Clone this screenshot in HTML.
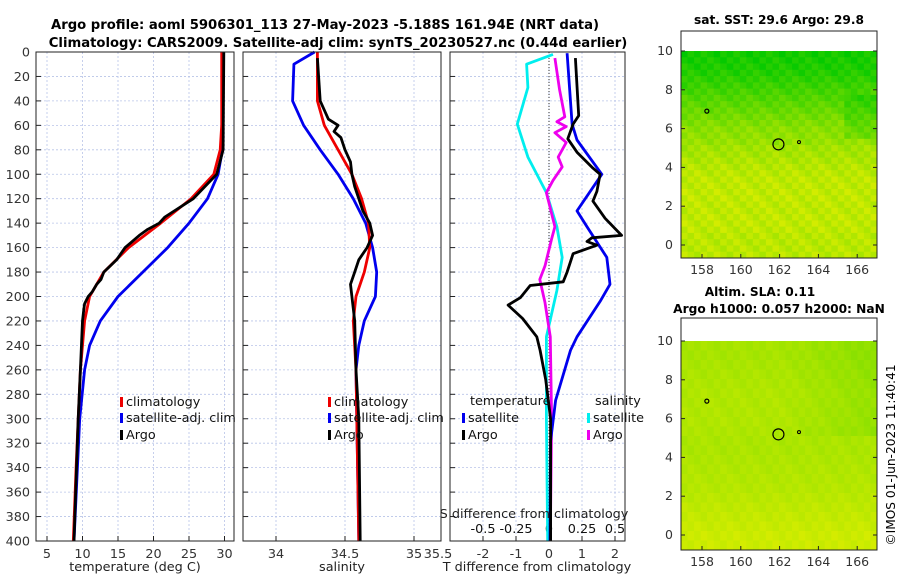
<!DOCTYPE html>
<html><head><meta charset="utf-8"><style>
body{margin:0;background:#fff;}
svg{display:block;font-family:"DejaVu Sans","Liberation Sans",sans-serif;}
</style></head><body>
<svg id="c" width="900" height="580" xmlns="http://www.w3.org/2000/svg">
<text x="325" y="29" text-anchor="middle" font-size="13.2" font-weight="bold">Argo profile: aoml 5906301_113 27-May-2023 -5.188S 161.94E (NRT data)</text>
<text x="338" y="47" text-anchor="middle" font-size="13.2" font-weight="bold">Climatology: CARS2009. Satellite-adj clim: synTS_20230527.nc (0.44d earlier)</text>
<text x="779" y="24" text-anchor="middle" font-size="12.2" font-weight="bold">sat. SST: 29.6 Argo: 29.8</text>
<text x="760" y="296" text-anchor="middle" font-size="12.2" font-weight="bold">Altim. SLA: 0.11</text>
<text x="779" y="313" text-anchor="middle" font-size="12.2" font-weight="bold">Argo h1000: 0.057 h2000: NaN</text>
<text transform="translate(895,455) rotate(-90)" text-anchor="middle" font-size="12.2">©IMOS 01-Jun-2023 11:40:41</text>
<g id="g"></g>
</svg>
<script>
// ---- data ----
const depthTicks=[0,20,40,60,80,100,120,140,160,180,200,220,240,260,280,300,320,340,360,380,400];
const tempTicks=[5,10,15,20,25,30];
const salTicks=[34,34.5,35];
const salTickLabels=["34","34.5","35"];
const diffTTicks=[-2,-1,0,1,2];
const diffSTicks=[-0.5,-0.25,0,0.25,0.5];
const diffSTickLabels=["-0.5","-0.25","0","0.25","0.5"];

const tClimD=[0,60,80,100,120,140,160,180,200,220,240,260,300,340,400];
const tClimV=[29.6,29.6,29.4,28.5,25.3,21,16.5,13,11,10.3,10,9.7,9.4,9.1,8.7];
const tSatD=[0,80,100,120,140,160,180,200,220,240,260,300,400];
const tSatV=[29.8,29.7,29.1,27.6,25,22,18.5,15,12.5,11,10.3,9.6,8.8];
const tArgoD=[0,80,100,120,135,140,145,150,160,170,180,186,190,196,200,206,210,220,260,300,400];
const tArgoV=[29.9,29.8,28.9,25.6,21.6,20.8,19.2,18,16,14.8,13,12.6,12,11.4,10.8,10.3,10.2,10,9.7,9.4,8.8];

const sClimD=[0,40,60,80,100,120,140,160,180,200,220,260,400];
const sClimV=[34.3,34.3,34.35,34.45,34.55,34.62,34.67,34.68,34.64,34.58,34.56,34.58,34.6];
const sSatD=[0,10,40,60,80,100,120,140,160,180,200,220,240,260,400];
const sSatV=[34.28,34.13,34.12,34.2,34.32,34.45,34.56,34.65,34.7,34.73,34.72,34.64,34.6,34.58,34.6];
const sArgoD=[5,40,55,60,65,70,80,90,100,110,120,130,140,150,160,170,180,190,200,210,220,260,300,400];
const sArgoV=[34.3,34.32,34.38,34.45,34.42,34.47,34.5,34.54,34.55,34.57,34.6,34.63,34.68,34.7,34.66,34.6,34.57,34.54,34.55,34.56,34.57,34.58,34.6,34.61];

const dTSatD=[1,59,72,100,130,143,168,190,204,233,244,285,318,400];
const dTSatV=[0.55,0.7,0.85,1.6,0.85,1.15,1.75,1.85,1.55,0.85,0.65,0.2,0.05,0.03];
const dTArgoD=[5,52,59,71,82,95,100,114,122,136,150,152,155,158,165,180,188,191,201,207,218,233,244,268,300,400];
const dTArgoV=[0.8,0.9,0.73,0.57,0.85,1.33,1.55,1.45,1.33,1.7,2.2,1.3,1.15,1.45,0.73,0.55,0.43,-0.57,-0.87,-1.24,-0.8,-0.37,-0.27,-0.1,0.05,0.05];
const dSSatD=[2,10,29,59,86,115,143,168,195,233,300,400];
const dSSatV=[0.03,-0.17,-0.16,-0.24,-0.16,-0.02,0.06,0.1,0.06,-0.02,-0.02,-0.01];
const dSArgoD=[5,31,53,57,61,66,74,86,94,105,115,143,153,175,186,205,233,300,400];
const dSArgoV=[0.045,0.08,0.12,0.06,0.13,0.045,0.13,0.07,0.1,0.03,-0.02,0.045,0.02,-0.03,-0.07,-0.03,0.01,0.02,0.01];

const sstRows=[0.08,0.1,0.12,0.15,0.2,0.25,0.3,0.35,0.4,0.45,0.5,0.55,0.6,0.62,0.65,0.7,0.72,0.75,0.78,0.8,0.82,0.82,0.83,0.83,0.82,0.82,0.83,0.83,0.82,0.8,0.8,0.8,0.8];
const slaRows=[0.72,0.72,0.73,0.74,0.75,0.76,0.76,0.76,0.76,0.75,0.74,0.74,0.75,0.76,0.77,0.78,0.8,0.82,0.84,0.86,0.88,0.88];
const mapLonTicks=[158,160,162,164,166];
const mapLatTicks=[0,2,4,6,8,10];

// ---- helpers ----
const NS="http://www.w3.org/2000/svg";
const G=document.getElementById('g');
function mk(tag,attrs,parent){const e=document.createElementNS(NS,tag);for(const k in attrs)e.setAttribute(k,attrs[k]);(parent||G).appendChild(e);return e;}
const Y0=52,Y1=541;
const yD=d=>Y0+(Y1-Y0)*d/400;
const xT=t=>47+(t-5)*7.1;
const xS=s=>276+(s-34)*138;
const xDT=t=>549+t*33;
const xDS=s=>549+s*132;
const panels=[[36,234],[243,441],[450,625]];
const FS=12.8;

panels.forEach((p,pi)=>{
  const r=mk('rect',{x:p[0],y:Y0,width:p[1]-p[0],height:Y1-Y0,fill:'#fff'});
  
  
  depthTicks.forEach(d=>{
    mk('line',{x1:p[0],x2:p[1],y1:yD(d),y2:yD(d),stroke:'#b8c4e8','stroke-width':0.8,'stroke-dasharray':'2,2'});
    mk('line',{x1:p[0],x2:p[0]+5,y1:yD(d),y2:yD(d),stroke:'#222'});
  });
});
tempTicks.forEach(t=>{mk('line',{x1:xT(t),x2:xT(t),y1:Y0,y2:Y1,stroke:'#b8c4e8','stroke-width':0.8,'stroke-dasharray':'2,2'});mk('line',{x1:xT(t),x2:xT(t),y1:Y1,y2:Y1-5,stroke:'#222'});
  const tx=mk('text',{x:xT(t),y:558,'text-anchor':'middle','font-size':FS,fill:'#333'});tx.textContent=t;
  
  });
salTicks.forEach((s,i)=>{mk('line',{x1:xS(s),x2:xS(s),y1:Y0,y2:Y1,stroke:'#b8c4e8','stroke-width':0.8,'stroke-dasharray':'2,2'});mk('line',{x1:xS(s),x2:xS(s),y1:Y1,y2:Y1-5,stroke:'#222'});
  const tx=mk('text',{x:xS(s),y:558,'text-anchor':'middle','font-size':FS,fill:'#333'});tx.textContent=salTickLabels[i];
  
  });
{const tx=mk('text',{x:438,y:558,'text-anchor':'middle','font-size':FS,fill:'#333'});tx.textContent='35.5';

}
diffTTicks.forEach(t=>{mk('line',{x1:xDT(t),x2:xDT(t),y1:Y0,y2:Y1,stroke:'#b8c4e8','stroke-width':0.8,'stroke-dasharray':'2,2'});mk('line',{x1:xDT(t),x2:xDT(t),y1:Y1,y2:Y1-5,stroke:'#222'});
  const tx=mk('text',{x:xDT(t),y:558,'text-anchor':'middle','font-size':FS,fill:'#333'});tx.textContent=t;
  
  });
diffSTicks.forEach((s,i)=>{const tx=mk('text',{x:xDS(s),y:533,'text-anchor':'middle','font-size':FS,fill:'#111'});tx.textContent=diffSTickLabels[i];
  
  });
depthTicks.forEach(d=>{const tx=mk('text',{x:30,y:yD(d)+4.5,'text-anchor':'end','font-size':FS,fill:'#333'});tx.textContent=d;
  
  });
mk('line',{x1:xDT(0),x2:xDT(0),y1:Y0,y2:Y1,stroke:'#333','stroke-width':1,'stroke-dasharray':'1,2'});

function series(D,V,fx,color,name){
  const pts=D.map((d,i)=>fx(V[i]).toFixed(1)+','+yD(d).toFixed(1)).join(' ');
  const e=mk('polyline',{points:pts,fill:'none',stroke:color,'stroke-width':2.8,'stroke-linejoin':'round'});
  
  
}
series(tSatD,tSatV,xT,'#0000ee','temp-satellite-line');
series(tClimD,tClimV,xT,'#ee0000','temp-climatology-line');
series(tArgoD,tArgoV,xT,'#000','temp-argo-line');
series(sSatD,sSatV,xS,'#0000ee','salinity-satellite-line');
series(sClimD,sClimV,xS,'#ee0000','salinity-climatology-line');
series(sArgoD,sArgoV,xS,'#000','salinity-argo-line');
series(dSSatD,dSSatV,xDS,'#00eeee','s-diff-satellite-line');
series(dSArgoD,dSArgoV,xDS,'#ee00ee','s-diff-argo-line');
series(dTSatD,dTSatV,xDT,'#0000ee','t-diff-satellite-line');
series(dTArgoD,dTArgoV,xDT,'#000','t-diff-argo-line');

panels.forEach(p=>mk('rect',{x:p[0],y:Y0,width:p[1]-p[0],height:Y1-Y0,fill:'none',stroke:'#222','stroke-width':1}));

function legend(x,y,color,label,name){
  mk('rect',{x:x,y:y-9,width:3,height:10,fill:color});
  const t=mk('text',{x:x+6,y:y,'font-size':12.8,fill:'#111'});t.textContent=label;
  
  
}
legend(120,406,'#ee0000','climatology','legend-temp-climatology');
legend(120,422,'#0000ee','satellite-adj. clim','legend-temp-satellite');
legend(120,439,'#000','Argo','legend-temp-argo');
legend(328,406,'#ee0000','climatology','legend-sal-climatology');
legend(328,422,'#0000ee','satellite-adj. clim','legend-sal-satellite');
legend(328,439,'#000','Argo','legend-sal-argo');
{const t=mk('text',{x:470,y:405,'font-size':12.8,fill:'#111'});t.textContent='temperature';


const t2=mk('text',{x:595,y:405,'font-size':12.8,fill:'#111'});t2.textContent='salinity';

}
legend(462,422,'#0000ee','satellite','legend-tdiff-satellite');
legend(462,439,'#000','Argo','legend-tdiff-argo');
legend(587,422,'#00eeee','satellite','legend-sdiff-satellite');
legend(587,439,'#ee00ee','Argo','legend-sdiff-argo');

const labs=[[135,571,'temperature (deg C)','x-axis-title-temperature'],[342,571,'salinity','x-axis-title-salinity'],[537,571,'T difference from climatology','x-axis-title-t-diff'],[534,518,'S difference from climatology','s-diff-axis-title']];
labs.forEach(l=>{const t=mk('text',{x:l[0],y:l[1],'text-anchor':'middle','font-size':12.8,fill:'#222'});t.textContent=l[2];
  
  });

// ---- maps ----
function col(t){const r=Math.round(232*t),g=Math.round(200+40*t);return 'rgb('+r+','+g+',0)';}
function map(top,dataTop,bottom,rows,name,tex){
  const x0=681,x1=877;
  const lat=v=>dataTop+(10-v)*19.4;
  const lon=v=>702+(v-158)*19.4;
  const box=mk('rect',{x:x0,y:top,width:x1-x0,height:bottom-top,fill:'#fff'});
  
  
  const nr=rows.length, nc=30, cw=(x1-x0)/nc, rh=(bottom-dataTop)/nr;
  for(let i=0;i<nr;i++)for(let j=0;j<nc;j++){
    let t=rows[i]+tex*(((i*7+j*13)%5)-2)*0.04;
    if(name==='sla-map'&&j>15&&i<10)t-=0.12*(j-15)/15;
    if(name==='sst-map'&&j>24&&i>6&&i<14)t-=0.15;
    t=Math.max(0,Math.min(1,t));
    mk('rect',{x:(x0+j*cw).toFixed(1),y:(dataTop+i*rh).toFixed(1),width:(cw+0.5).toFixed(1),height:(rh+0.5).toFixed(1),fill:col(t)});
  }
  mk('rect',{x:x0,y:top,width:x1-x0,height:bottom-top,fill:'none',stroke:'#222'});
  mapLonTicks.forEach(v=>{mk('line',{x1:lon(v),x2:lon(v),y1:bottom,y2:bottom-4,stroke:'#222'});
    const t=mk('text',{x:lon(v),y:bottom+16,'text-anchor':'middle','font-size':12.5,fill:'#333'});t.textContent=v;
    
    });
  mapLatTicks.forEach(v=>{mk('line',{x1:x0,x2:x0+4,y1:lat(v),y2:lat(v),stroke:'#222'});mk('line',{x1:x1,x2:x1-4,y1:lat(v),y2:lat(v),stroke:'#222'});
    const t=mk('text',{x:x0-8,y:lat(v)+4,'text-anchor':'end','font-size':12.5,fill:'#333'});t.textContent=v;
    
    });
  const c=mk('circle',{cx:lon(161.94),cy:lat(5.188),r:5.5,fill:'none',stroke:'#000','stroke-width':1.2});
  
  
  mk('circle',{cx:lon(158.25),cy:lat(6.9),r:2,fill:'none',stroke:'#000','stroke-width':1.2});
  mk('circle',{cx:lon(163),cy:lat(5.3),r:1.5,fill:'none',stroke:'#000','stroke-width':1});
}
map(31,51,258,sstRows,'sst-map',1);
map(318,341,550,slaRows,'sla-map',0.4);
</script>
</body></html>
